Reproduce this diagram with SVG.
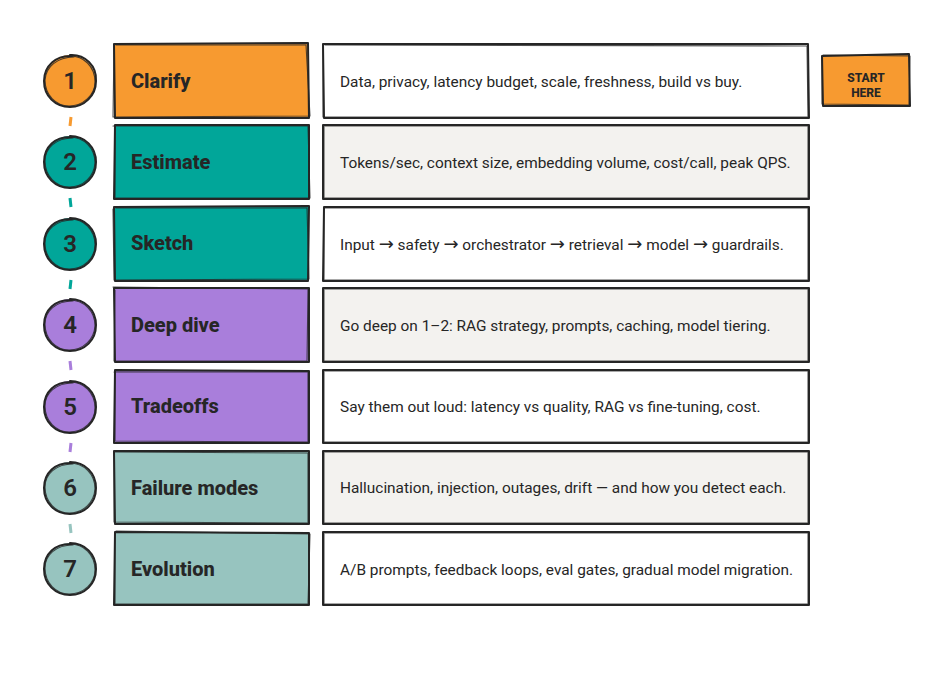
<svg xmlns="http://www.w3.org/2000/svg" width="942" height="676" viewBox="0 0 942 676">
<style>
.bg{fill:#ffffff}
.ol{fill:none;stroke:#262626;stroke-width:2;stroke-linejoin:round;stroke-linecap:round}
.ol2{fill:none;stroke:#262626;stroke-width:1.1;stroke-opacity:.8;stroke-linejoin:round;stroke-linecap:round}
.title{font-family:Roboto,"Liberation Sans",sans-serif;font-weight:800;font-size:20px;fill:#262626}
.num{font-family:Roboto,"Liberation Sans",sans-serif;font-weight:600;font-size:24px;fill:#262626;text-anchor:middle}
.desc{font-family:Roboto,"Liberation Sans",sans-serif;font-size:15.4px;fill:#262626}
.arr{font-family:"DejaVu Sans",sans-serif;font-size:18px}
.start{font-family:Roboto,"Liberation Sans",sans-serif;font-weight:800;font-size:12px;fill:#262626;text-anchor:middle}
.orange{fill:#f79a30}
.teal{fill:#01a699}
.purple{fill:#a97edb}
.lteal{fill:#97c4bf}
.white{fill:#ffffff}
.grey{fill:#f3f2ef}
.dash{stroke-width:3;stroke-linecap:butt}
</style>
<rect class="bg" x="0" y="0" width="942" height="676"/>

<g id="connectors">
<line class="dash" x1="71" y1="117" x2="70" y2="126" stroke="#f79a30"/>
<line class="dash" x1="70" y1="198" x2="71" y2="207" stroke="#01a699"/>
<line class="dash" x1="71" y1="280" x2="70" y2="289" stroke="#01a699"/>
<line class="dash" x1="70" y1="361" x2="71" y2="370" stroke="#a97edb"/>
<line class="dash" x1="71" y1="443" x2="70" y2="452" stroke="#a97edb"/>
<line class="dash" x1="70" y1="524" x2="71" y2="533" stroke="#97c4bf"/>
</g>

<g id="step1">
<circle class="orange" cx="70" cy="81" r="26"/>
<path class="ol" d="M70,55 C85,54 97,66 96,81 C96,96 84,107 70,107 C55,107 44,96 44,81 C44,66 56,55 72,56"/>
<path class="ol2" d="M68,56 C84,55 95,67 95,82 C95,95 83,106 69,106 C56,106 45,95 45,80 C46,67 57,57 74,57"/>
<text class="num" x="70" y="89">1</text>
<path class="orange" d="M114,44 L309,44 L309,118 L114,118 Z"/>
<path class="ol" d="M114,44 L308,43 L309,118 L115,118 Z"/>
<path class="ol2" d="M116,45 L306,45 L310,116 L113,117 L114,46"/>
<text class="title" x="131" y="88">Clarify</text>
<path class="white" d="M323,44 L809,44 L809,118 L323,118 Z"/>
<path class="ol" d="M323,44 L808,44 L809,118 L324,118 Z"/>
<path class="ol2" d="M325,45 L807,46 L808,117 L323,117 L323,47"/>
<text class="desc" x="340" y="87">Data, privacy, latency budget, scale, freshness, build vs buy.</text>
</g>

<g id="step2">
<circle class="teal" cx="70" cy="162" r="26"/>
<path class="ol" d="M70,136 C85,136 96,147 96,162 C96,177 85,188 70,188 C55,188 44,177 44,162 C44,147 55,136 72,137"/>
<path class="ol2" d="M69,137 C84,137 95,148 95,163 C94,176 84,187 69,187 C56,187 45,176 45,161 C45,148 56,138 73,138"/>
<text class="num" x="70" y="170">2</text>
<path class="teal" d="M114,125 L309,125 L309,199 L114,199 Z"/>
<path class="ol" d="M115,125 L309,125 L309,199 L114,199 Z"/>
<path class="ol2" d="M113,126 L308,126 L310,198 L115,198 L115,127"/>
<text class="title" x="131" y="169">Estimate</text>
<path class="grey" d="M323,125 L809,125 L809,199 L323,199 Z"/>
<path class="ol" d="M323,125 L809,125 L809,199 L323,199 Z"/>
<path class="ol2" d="M324,126 L808,126 L808,198 L324,198 L324,127"/>
<text class="desc" x="340" y="168">Tokens/sec, context size, embedding volume, cost/call, peak QPS.</text>
</g>

<g id="step3">
<circle class="teal" cx="70" cy="244" r="26"/>
<path class="ol" d="M70,218 C85,218 96,229 96,244 C96,259 85,270 70,270 C55,270 44,259 44,244 C44,229 55,218 72,219"/>
<path class="ol2" d="M68,219 C84,218 95,230 95,245 C95,258 84,269 69,269 C56,269 45,258 45,243 C45,230 56,220 73,220"/>
<text class="num" x="70" y="252">3</text>
<path class="teal" d="M114,207 L309,207 L309,281 L114,281 Z"/>
<path class="ol" d="M114,207 L309,206 L308,281 L115,281 Z"/>
<path class="ol2" d="M116,208 L307,208 L309,279 L114,280 L113,209"/>
<text class="title" x="131" y="250">Sketch</text>
<path class="white" d="M323,207 L809,207 L809,281 L323,281 Z"/>
<path class="ol" d="M324,207 L809,207 L809,281 L323,281 Z"/>
<path class="ol2" d="M324,208 L808,208 L808,280 L324,280 L324,209"/>
<text class="desc" x="340" y="250">Input <tspan class="arr">→</tspan> safety <tspan class="arr">→</tspan> orchestrator <tspan class="arr">→</tspan> retrieval <tspan class="arr">→</tspan> model <tspan class="arr">→</tspan> guardrails.</text>
</g>

<g id="step4">
<circle class="purple" cx="70" cy="325" r="26"/>
<path class="ol" d="M70,299 C85,299 96,310 96,325 C96,340 85,351 70,351 C55,351 44,340 44,325 C44,310 55,299 72,300"/>
<path class="ol2" d="M69,300 C84,300 95,311 95,326 C94,339 84,350 69,350 C56,350 45,339 45,324 C45,311 56,301 73,301"/>
<text class="num" x="70" y="333">4</text>
<path class="purple" d="M114,288 L309,288 L309,362 L114,362 Z"/>
<path class="ol" d="M114,288 L309,288 L309,362 L115,362 Z"/>
<path class="ol2" d="M113,287 L308,289 L307,361 L114,361 L115,290"/>
<text class="title" x="131" y="332">Deep dive</text>
<path class="grey" d="M323,288 L809,288 L809,362 L323,362 Z"/>
<path class="ol" d="M323,288 L809,288 L809,362 L323,362 Z"/>
<path class="ol2" d="M324,289 L808,289 L808,361 L324,361 L324,290"/>
<text class="desc" x="340" y="331">Go deep on 1–2: RAG strategy, prompts, caching, model tiering.</text>
</g>

<g id="step5">
<circle class="purple" cx="70" cy="407" r="26"/>
<path class="ol" d="M70,381 C85,381 96,392 96,407 C96,422 85,433 70,433 C55,433 44,422 44,407 C44,392 55,381 72,382"/>
<path class="ol2" d="M68,382 C84,381 95,393 95,408 C95,421 84,432 69,432 C56,432 45,421 45,406 C45,393 56,383 73,383"/>
<text class="num" x="70" y="415">5</text>
<path class="purple" d="M114,370 L309,370 L309,443 L114,443 Z"/>
<path class="ol" d="M115,370 L309,371 L309,443 L114,443 Z"/>
<path class="ol2" d="M114,372 L308,372 L308,442 L115,441 L115,371"/>
<text class="title" x="131" y="413">Tradeoffs</text>
<path class="white" d="M323,370 L809,370 L809,443 L323,443 Z"/>
<path class="ol" d="M323,370 L809,370 L809,443 L323,443 Z"/>
<path class="ol2" d="M324,371 L808,371 L808,442 L324,442 L324,372"/>
<text class="desc" x="340" y="412">Say them out loud: latency vs quality, RAG vs fine-tuning, cost.</text>
</g>

<g id="step6">
<circle class="lteal" cx="70" cy="488" r="26"/>
<path class="ol" d="M70,462 C85,462 96,473 96,488 C96,503 85,514 70,514 C55,514 44,503 44,488 C44,473 55,462 72,463"/>
<path class="ol2" d="M69,463 C84,463 95,474 95,489 C94,502 84,513 69,513 C56,513 45,502 45,487 C45,474 56,464 73,464"/>
<text class="num" x="70" y="496">6</text>
<path class="lteal" d="M114,451 L309,451 L309,524 L114,524 Z"/>
<path class="ol" d="M114,451 L309,451 L309,524 L115,524 Z"/>
<path class="ol2" d="M115,452 L308,453 L308,523 L114,522 L114,452"/>
<text class="title" x="131" y="495">Failure modes</text>
<path class="grey" d="M323,451 L809,451 L809,524 L323,524 Z"/>
<path class="ol" d="M323,451 L809,451 L809,524 L323,524 Z"/>
<path class="ol2" d="M324,452 L808,452 L808,523 L324,523 L324,453"/>
<text class="desc" x="340" y="493">Hallucination, injection, outages, drift — and how you detect each.</text>
</g>

<g id="step7">
<circle class="lteal" cx="70" cy="569" r="26"/>
<path class="ol" d="M70,543 C85,543 96,554 96,569 C96,584 85,595 70,595 C55,595 44,584 44,569 C44,554 55,543 72,544"/>
<path class="ol2" d="M68,544 C84,543 95,555 95,570 C95,583 84,594 69,594 C56,594 45,583 45,568 C45,555 56,545 73,545"/>
<text class="num" x="70" y="577">7</text>
<path class="lteal" d="M114,532 L309,532 L309,605 L114,605 Z"/>
<path class="ol" d="M115,532 L309,533 L309,605 L114,605 Z"/>
<path class="ol2" d="M116,531 L310,534 L308,604 L115,604 L115,533"/>
<text class="title" x="131" y="576">Evolution</text>
<path class="white" d="M323,532 L809,532 L809,605 L323,605 Z"/>
<path class="ol" d="M323,532 L809,532 L809,605 L323,605 Z"/>
<path class="ol2" d="M324,533 L808,533 L808,604 L324,604 L324,534"/>
<text class="desc" x="340" y="575">A/B prompts, feedback loops, eval gates, gradual model migration.</text>
</g>

<g id="start-here">
<path class="orange" d="M822,55 L910,55 L910,106 L822,106 Z"/>
<path class="ol" d="M822,56 L909,54 L910,106 L823,106 Z"/>
<path class="ol2" d="M823,55 L910,56 L909,105 L822,104 L822,57"/>
<text class="start" x="866" y="82">START</text>
<text class="start" x="866" y="97">HERE</text>
</g>
</svg>
